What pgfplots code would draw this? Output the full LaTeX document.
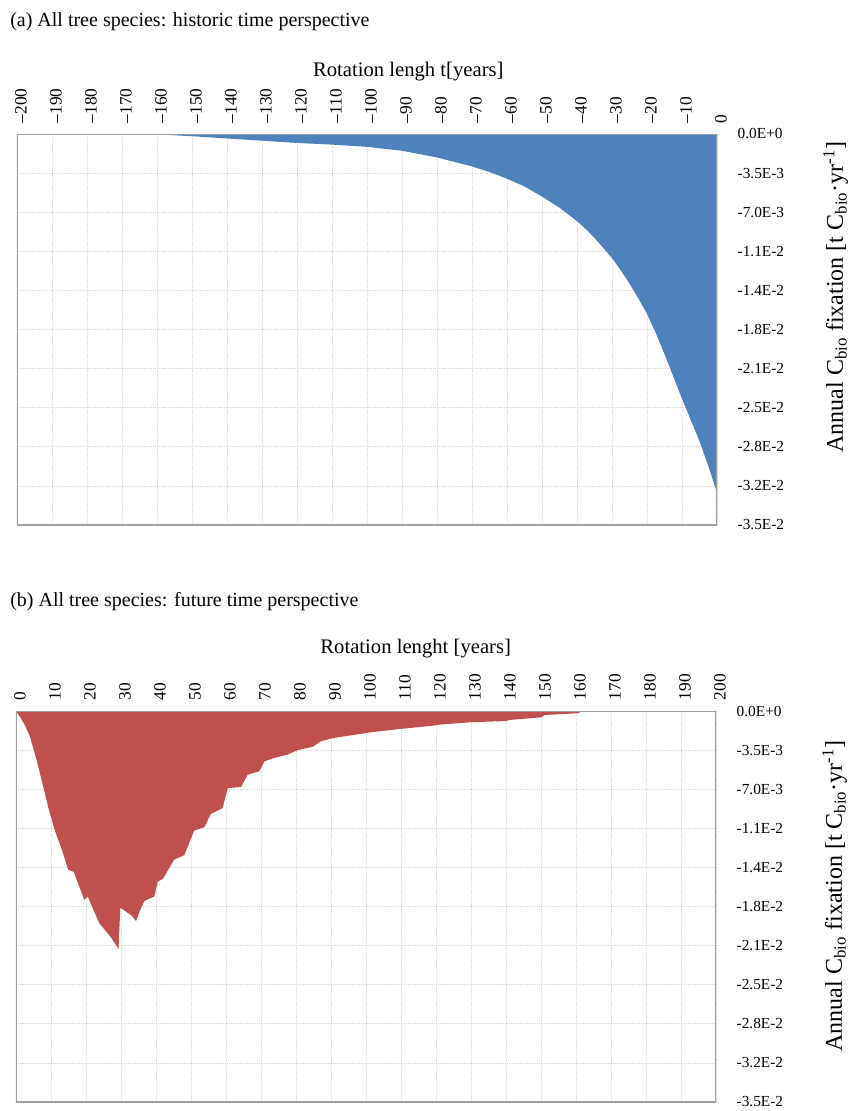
\documentclass[border=0pt]{standalone}
\usepackage{fontspec}
\setmainfont{Liberation Serif}
\usepackage{pgfplots}
\pgfplotsset{compat=1.18}
\definecolor{blueC}{HTML}{4F81BD}
\definecolor{redC}{HTML}{C0504D}
\pgfplotsset{common/.style={
  width=525pt, height=293.25pt, scale only axis,
  ymin=-0.035, ymax=0,
  scaled y ticks=false, scaled x ticks=false,
  ytick={-0.035,-0.0315,-0.028,-0.0245,-0.021,-0.0175,-0.014,-0.0105,-0.007,-0.0035,0},
  yticklabels={-3.5E-2,-3.2E-2,-2.8E-2,-2.5E-2,-2.1E-2,-1.8E-2,-1.4E-2,-1.1E-2,-7.0E-3,-3.5E-3,0.0E+0},
  xticklabel pos=top, yticklabel pos=right,
  major tick length=0pt,
  grid=major,
  major grid style={draw=gray!30, densely dotted, line width=0.6pt},
  axis line style={draw=none},
  xticklabel style={font=\fontsize{13}{13}\selectfont, xshift=3pt, yshift=8pt, rotate=90, anchor=west, inner sep=0pt},
  yticklabel style={font=\fontsize{11.5}{12}\selectfont, anchor=west, xshift=12pt},
  ylabel={Annual C\textsubscript{bio} fixation [t C\textsubscript{bio}·yr\textsuperscript{-1}]},
  xlabel style={font=\fontsize{15.5}{16}\selectfont, anchor=base},
}}
\begin{document}
\begin{tikzpicture}
\useasboundingbox (0,0) rectangle (642.75pt,-833.25pt);
\node[anchor=base west, font=\fontsize{15}{16}\selectfont, inner sep=0pt] at (7.5pt,-19.5pt) {(a) All tree species: historic time perspective};
\node[anchor=base west, font=\fontsize{15}{16}\selectfont, inner sep=0pt] at (7.5pt,-455pt) {(b) All tree species: future time perspective};
\begin{axis}[common,
  at={(12.75pt,-100.5pt)}, anchor=north west,
  xmin=-200, xmax=0,
  xtick={-200,-190,...,0},
  xticklabels={–200,–190,–180,–170,–160,–150,–140,–130,–120,–110,–100,–90,–80,–70,–60,–50,–40,–30,–20,–10,0},
  xlabel={Rotation lengh t[years]},
  xlabel style={at={(axis description cs:0.559,1.1458)}},
  ylabel style={at={(axis description cs:1.1695,0.583)}, anchor=center, font=\fontsize{18}{20}\selectfont},
]
\addplot[fill=blueC, draw=none] table {
x y
-200 0
-170 0
-160 -0.00003
-150 -0.0002
-140 -0.0004
-130 -0.0006
-120 -0.0008
-110 -0.00095
-100 -0.00115
-90 -0.0015
-80 -0.0021
-75 -0.0025
-70 -0.0029
-65 -0.0034
-60 -0.0040
-55 -0.0047
-50 -0.0056
-45 -0.0066
-40 -0.0078
-37.5 -0.0085
-35 -0.0093
-32.5 -0.0102
-30 -0.0111
-27.5 -0.0122
-25 -0.0134
-22.5 -0.0147
-20 -0.0161
-17.5 -0.0178
-15 -0.0197
-12.5 -0.0217
-10 -0.0237
-7.5 -0.0256
-5 -0.0275
-2.5 -0.0297
0 -0.0321
} \closedcycle;
\draw[gray!75, line width=1.2pt] (rel axis cs:0,0) rectangle (rel axis cs:1,1);
\end{axis}
\begin{axis}[common,
  at={(12pt,-533.25pt)}, anchor=north west,
  xmin=0, xmax=200,
  xtick={0,10,...,200},
  xticklabels={0,10,20,30,40,50,60,70,80,90,100,110,120,130,140,150,160,170,180,190,200},
  xlabel={Rotation lenght [years]},
  xlabel style={at={(axis description cs:0.571,1.148)}},
  ylabel style={at={(axis description cs:1.1695,0.527)}, anchor=center, font=\fontsize{18}{20}\selectfont},
]
\addplot[fill=redC, draw=none] table {
x y
0 0
1.1 -0.0005
2.6 -0.0013
4.0 -0.0023
5.9 -0.0044
7.8 -0.0068
9.2 -0.0086
11.1 -0.0107
13.1 -0.0124
14.9 -0.0142
16.5 -0.0144
19.5 -0.0169
20.5 -0.0166
23.8 -0.0190
27 -0.0202
29.3 -0.0213
29.8 -0.0176
33 -0.0183
34.3 -0.0188
35.5 -0.0178
36.7 -0.0170
39.5 -0.0166
40.5 -0.0153
42 -0.0150
45.2 -0.0133
48.1 -0.0129
50.9 -0.0107
53.8 -0.0104
55.7 -0.0092
59 -0.0087
60.5 -0.0069
64.3 -0.0068
66.2 -0.0057
69.5 -0.0054
71 -0.0045
73.8 -0.0042
77.6 -0.0039
80.5 -0.0035
84.8 -0.0032
87.1 -0.0027
91 -0.0024
99.5 -0.0020
101.4 -0.0019
110 -0.0016
119.5 -0.0013
121.4 -0.0012
130.5 -0.0010
140 -0.0009
141 -0.0008
150 -0.00057
151 -0.00036
160.5 -0.0002
162 0
200 0
} \closedcycle;
\draw[gray!75, line width=1.2pt] (rel axis cs:0,0) rectangle (rel axis cs:1,1);
\end{axis}
\end{tikzpicture}
\end{document}
